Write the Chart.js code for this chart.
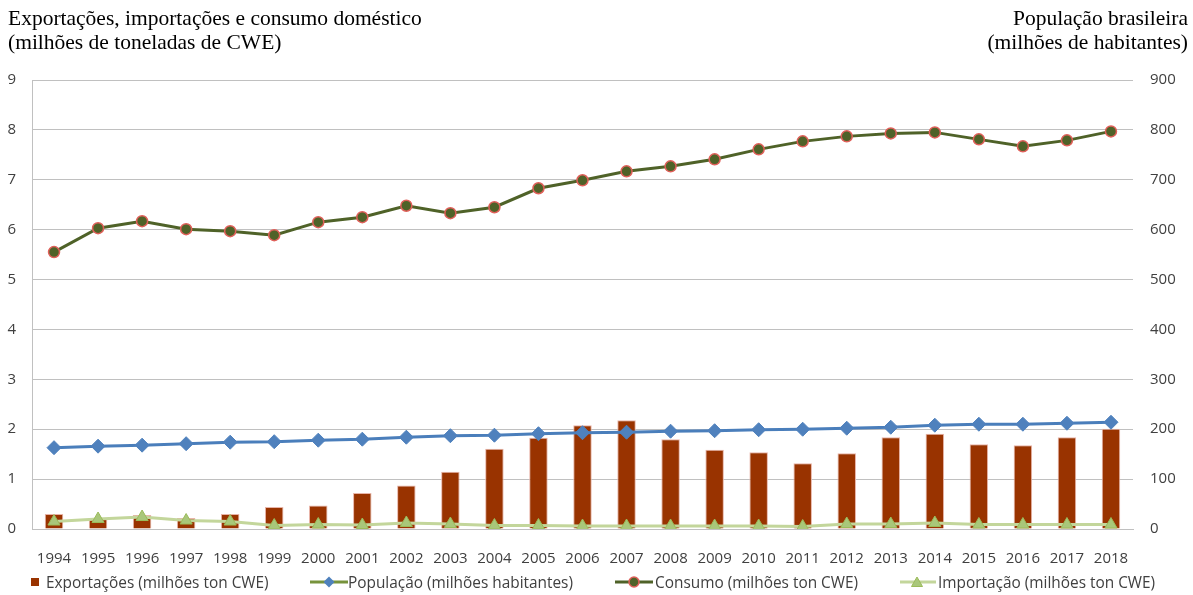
<!DOCTYPE html>
<html lang="pt">
<head>
<meta charset="utf-8">
<title>Exportações, importações, consumo e população</title>
<script src="https://cdn.jsdelivr.net/npm/chart.js@4"></script>
<style>
  html, body { margin: 0; padding: 0; background: #fff; }
  #wrap { position: relative; width: 1193px; height: 595px; overflow: hidden; }
  #chart { position: absolute; left: 0; top: 0; }
  .title { position: absolute; top: 6px; font: 21.5px/24px 'Liberation Serif', 'Times New Roman', serif; color: #000; white-space: nowrap; }
  #titleLeft { left: 8px; }
  #titleRight { right: 5px; text-align: right; }
  .leg { position: absolute; top: 572px; height: 20px; line-height: 20px; font: 15.4px 'Open Sans', sans-serif; color: #404040; white-space: nowrap; }
  .leg svg { position: absolute; top: 3px; }
</style>
</head>
<body>
<div id="wrap">
  <canvas id="chart" width="1193" height="595"></canvas>
  <div class="title" id="titleLeft">Exportações, importações e consumo doméstico<br>(milhões de toneladas de CWE)</div>
  <div class="title" id="titleRight">População brasileira<br>(milhões de habitantes)</div>
  <div id="legend"></div>
</div>
<script>
// Anos e séries
const years = ['1994','1995','1996','1997','1998','1999','2000','2001','2002','2003','2004','2005',
               '2006','2007','2008','2009','2010','2011','2012','2013','2014','2015','2016','2017','2018'];

// milhões ton CWE
const exportacoes = [0.30, 0.20, 0.28, 0.22, 0.30, 0.44, 0.47, 0.72, 0.87, 1.15, 1.61, 1.83,
                     2.08, 2.18, 1.80, 1.59, 1.54, 1.32, 1.52, 1.84, 1.91, 1.70, 1.68, 1.84, 2.01];
const consumo = [5.55, 6.03, 6.17, 6.01, 5.97, 5.89, 6.15, 6.25, 6.48, 6.33, 6.45, 6.83,
                 6.99, 7.17, 7.27, 7.41, 7.61, 7.77, 7.87, 7.93, 7.95, 7.81, 7.67, 7.79, 7.97];
const importacao = [0.15, 0.20, 0.24, 0.17, 0.15, 0.07, 0.09, 0.08, 0.12, 0.10, 0.07, 0.07,
                    0.06, 0.06, 0.06, 0.06, 0.06, 0.05, 0.10, 0.10, 0.12, 0.09, 0.09, 0.09, 0.09];

// milhões de habitantes
const populacao = [163, 166, 168, 171, 174, 175, 178, 180, 184, 187, 188, 191,
                   193, 194, 196, 197, 199, 200, 202, 204, 208, 210, 210, 212, 214];

const leftTicks = [0, 9, 1];     // min, max, step
const rightTicks = [0, 900, 100];

const colors = {
  exp: '#993300',
  pop: '#4a7ebb',
  popMarker: '#4f81bd',
  popLegendLine: '#77933c',
  cons: '#4f6228',
  consBorder: '#e0605a',
  imp: '#c3d69b',
  impMarker: '#a9c77a',
  impBorder: '#9bbb59',
  grid: '#c0c0c0'
};

Chart.defaults.font.family = "'Open Sans', sans-serif";
Chart.defaults.font.size = 15;
Chart.defaults.color = '#404040';

const ctx = document.getElementById('chart').getContext('2d');
new Chart(ctx, {
  type: 'bar',
  data: {
    labels: years,
    datasets: [
      {
        type: 'line',
        label: 'Importação (milhões ton CWE)',
        data: importacao,
        yAxisID: 'y',
        order: 1,
        borderColor: colors.imp,
        borderWidth: 3,
        pointStyle: 'triangle',
        pointRadius: 7,
        pointBackgroundColor: colors.impMarker,
        pointBorderColor: colors.impBorder,
        pointBorderWidth: 1,
        tension: 0
      },
      {
        type: 'line',
        label: 'Consumo (milhões ton CWE)',
        data: consumo,
        yAxisID: 'y',
        order: 2,
        borderColor: colors.cons,
        borderWidth: 3,
        pointStyle: 'circle',
        pointRadius: 5.5,
        pointBackgroundColor: colors.cons,
        pointBorderColor: colors.consBorder,
        pointBorderWidth: 1.5,
        tension: 0
      },
      {
        type: 'line',
        label: 'População (milhões habitantes)',
        data: populacao,
        yAxisID: 'y1',
        order: 3,
        borderColor: colors.pop,
        borderWidth: 3,
        pointStyle: 'rectRot',
        pointRadius: 7,
        pointBackgroundColor: colors.popMarker,
        pointBorderColor: colors.popMarker,
        pointBorderWidth: 1,
        tension: 0
      },
      {
        label: 'Exportações (milhões ton CWE)',
        data: exportacoes,
        yAxisID: 'y',
        order: 4,
        backgroundColor: colors.exp,
        borderColor: '#e8b4a8',
        borderWidth: 1,
        categoryPercentage: 1,
        barPercentage: 0.42
      }
    ]
  },
  options: {
    responsive: false,
    animation: false,
    layout: { padding: { top: 80, left: 0, right: 0, bottom: 0 } },
    plugins: {
      legend: { display: false },
      tooltip: { enabled: false }
    },
    scales: {
      x: {
        grid: { display: false },
        border: { display: true, color: colors.grid },
        ticks: { padding: 13, maxRotation: 0, autoSkip: false },
        afterFit: s => { s.height = 66; }
      },
      y: {
        position: 'left',
        min: leftTicks[0],
        max: leftTicks[1],
        ticks: { stepSize: leftTicks[2], padding: 16 },
        grid: { color: colors.grid, drawTicks: false },
        border: { display: true, color: colors.grid },
        afterFit: s => { s.width = 32; }
      },
      y1: {
        position: 'right',
        min: rightTicks[0],
        max: rightTicks[1],
        ticks: { stepSize: rightTicks[2], padding: 17 },
        grid: { display: false, drawTicks: false },
        border: { display: false },
        afterFit: s => { s.width = 60; }
      }
    }
  }
});

// Legenda no estilo de planilha: linha + marcador
const legendItems = [
  { x: 31, textX: 46, label: 'Exportações (milhões ton CWE)',
    icon: `<svg width="9" height="14"><rect x="0" y="3" width="8" height="8" fill="${colors.exp}"/></svg>` },
  { x: 310, textX: 348, label: 'População (milhões habitantes)',
    icon: `<svg width="38" height="14"><path d="M0 7 H38" stroke="${colors.popLegendLine}" stroke-width="3"/><path d="M19 1.5 L24.5 7 L19 12.5 L13.5 7 Z" fill="${colors.popMarker}"/></svg>` },
  { x: 615, textX: 655, label: 'Consumo (milhões ton CWE)',
    icon: `<svg width="38" height="14"><path d="M0 7 H38" stroke="${colors.cons}" stroke-width="3"/><circle cx="19" cy="7" r="5" fill="${colors.cons}" stroke="${colors.consBorder}" stroke-width="1.5"/></svg>` },
  { x: 900, textX: 938, label: 'Importação (milhões ton CWE)',
    icon: `<svg width="36" height="14"><path d="M0 7 H36" stroke="${colors.imp}" stroke-width="3"/><path d="M17 2 L22.5 11.5 L11.5 11.5 Z" fill="${colors.impMarker}" stroke="${colors.impBorder}" stroke-width="1"/></svg>` }
];

const legend = document.getElementById('legend');
legendItems.forEach(item => {
  const icon = document.createElement('div');
  icon.className = 'leg';
  icon.style.left = item.x + 'px';
  icon.innerHTML = item.icon;
  legend.appendChild(icon);

  const text = document.createElement('div');
  text.className = 'leg';
  text.style.left = item.textX + 'px';
  text.textContent = item.label;
  legend.appendChild(text);
});
</script>
</body>
</html>
